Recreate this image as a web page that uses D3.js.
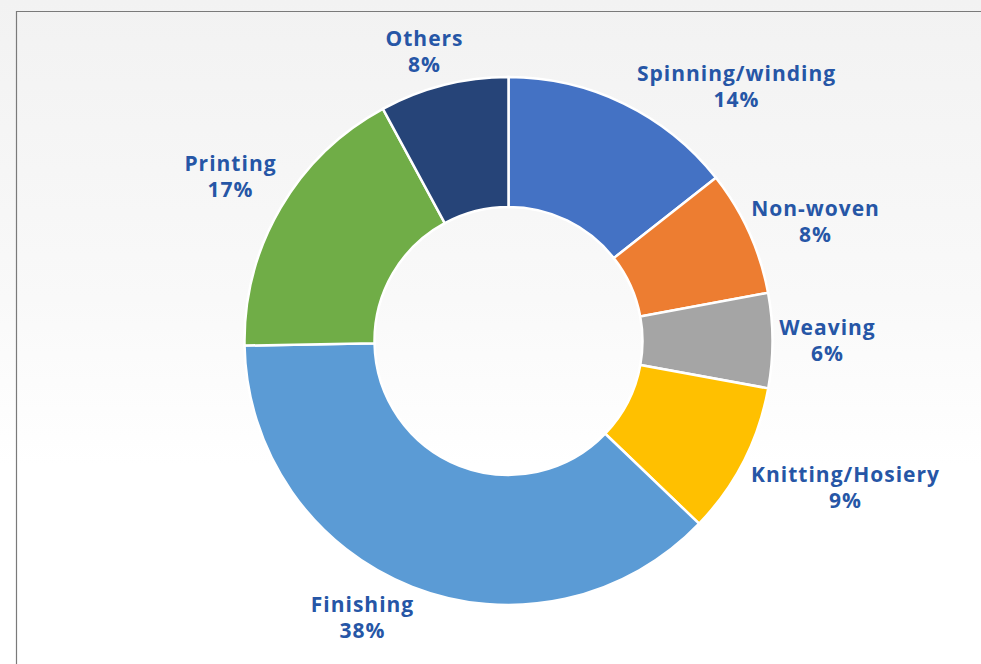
<!DOCTYPE html>
<html>
<head>
<meta charset="utf-8">
<script src="https://cdn.jsdelivr.net/npm/d3@7"></script>
<style>
  html, body { margin: 0; padding: 0; background: #ffffff; }
  svg { display: block; }
</style>
</head>
<body>
<svg id="chart" width="981" height="664"></svg>
<script>
// ---- data ----
const categories = ["Spinning/winding", "Non-woven", "Weaving", "Knitting/Hosiery", "Finishing", "Printing", "Others"];
const shares = [14.4, 7.7, 5.8, 9.3, 37.6, 17.4, 7.9];
const shareLabels = ["14%", "8%", "6%", "9%", "38%", "17%", "8%"];
const colors = ["#4472C4", "#ED7D31", "#A5A5A5", "#FFC000", "#5B9BD5", "#70AD47", "#264478"];

// ---- layout ----
const W = 981, H = 664;
const cx = 508.5, cy = 341, outerR = 264, innerR = 134;
// label centre offsets relative to chart centre (label layout, not data)
const labelOffsets = [[228, -255], [307, -120], [319, -1], [337, 146], [-146, 276], [-278, -165], [-84, -290]];

const svg = d3.select("#chart");
const defs = svg.append("defs");
const grad = defs.append("linearGradient").attr("id", "bg").attr("x1", 0).attr("y1", 0).attr("x2", 0).attr("y2", 1);
grad.append("stop").attr("offset", "0%").attr("stop-color", "#f2f2f2");
grad.append("stop").attr("offset", "45%").attr("stop-color", "#f9f9f9");
grad.append("stop").attr("offset", "70%").attr("stop-color", "#ffffff");
grad.append("stop").attr("offset", "100%").attr("stop-color", "#ffffff");
svg.append("rect").attr("width", W).attr("height", H).attr("fill", "url(#bg)");

// frame lines
svg.append("path")
  .attr("d", "M16.5," + H + " V11.5 H" + W)
  .attr("fill", "none").attr("stroke", "#7a7a7a").attr("stroke-width", 1.2);

const data = categories.map((c, i) => ({ name: c, value: shares[i], label: shareLabels[i], color: colors[i], off: labelOffsets[i] }));

const pie = d3.pie().sort(null).value(d => d.value).startAngle(0).endAngle(2 * Math.PI);
const arc = d3.arc().innerRadius(innerR).outerRadius(outerR);

const g = svg.append("g").attr("transform", `translate(${cx},${cy})`);
g.selectAll("path.slice")
  .data(pie(data))
  .join("path")
  .attr("class", "slice")
  .attr("d", arc)
  .attr("fill", d => d.data.color)
  .attr("stroke", "#ffffff")
  .attr("stroke-width", 2.5)
  .attr("stroke-linejoin", "miter");

const labels = g.selectAll("text.lbl")
  .data(data)
  .join("text")
  .attr("class", "lbl")
  .attr("text-anchor", "middle")
  .attr("font-family", "'Open Sans', sans-serif")
  .attr("font-weight", 700)
  .attr("font-size", 21)
  .attr("letter-spacing", 1)
  .attr("fill", "#2656a6")
  .attr("transform", d => `translate(${d.off[0]},${d.off[1]})`);

labels.append("tspan").attr("x", 0).attr("y", -5).text(d => d.name);
labels.append("tspan").attr("x", 0).attr("y", 21).text(d => d.label);
</script>
</body>
</html>
